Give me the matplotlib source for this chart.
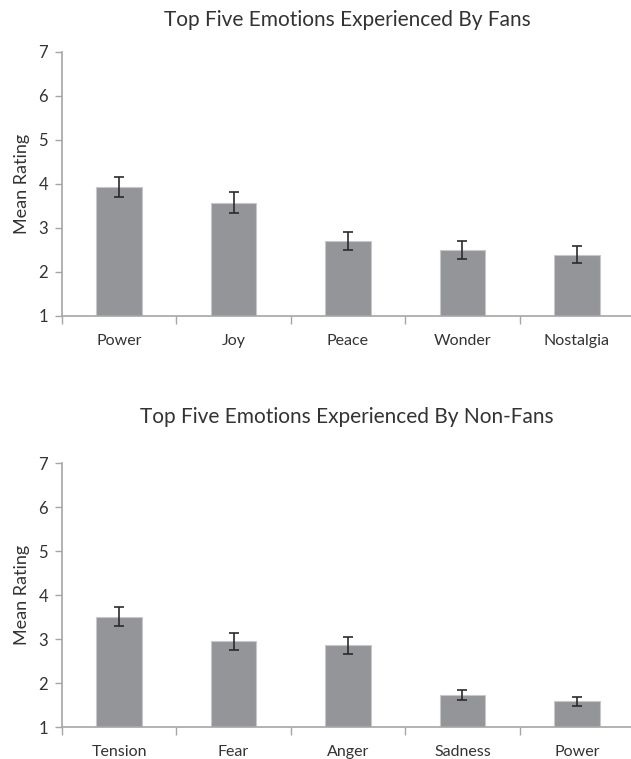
import matplotlib
matplotlib.use("Agg")
import matplotlib.pyplot as plt
import numpy as np

plt.rcParams["font.family"] = ["Lato", "DejaVu Sans"]

fan_labels = ["Power", "Joy", "Peace", "Wonder", "Nostalgia"]
fan_means = [3.93, 3.57, 2.71, 2.50, 2.39]
fan_err = [0.22, 0.24, 0.21, 0.20, 0.19]

nonfan_labels = ["Tension", "Fear", "Anger", "Sadness", "Power"]
nonfan_means = [3.51, 2.95, 2.86, 1.73, 1.58]
nonfan_err = [0.21, 0.19, 0.19, 0.11, 0.10]

titles = ["Top Five Emotions Experienced By Fans",
          "Top Five Emotions Experienced By Non-Fans"]

bar_col = "#939598"
axis_col = "#a6a6a6"
text_col = "#333333"

W, H = 631, 759
fig = plt.figure(figsize=(W / 100, H / 100), dpi=100)

# axes boxes in pixels: left, top, right, bottom
boxes = [(62, 52, 634, 316), (62, 463, 634, 727)]
title_y = [20, 417]

data = [(fan_labels, fan_means, fan_err), (nonfan_labels, nonfan_means, nonfan_err)]

for (labels, means, err), (l, t, r, b), ttl, ty in zip(data, boxes, titles, title_y):
    ax = fig.add_axes([l / W, 1 - b / H, (r - l) / W, (b - t) / H])
    x = np.arange(len(labels))
    ax.bar(x, np.array(means) - 1, bottom=1, width=0.4, color=bar_col,
           edgecolor="#c8c8ca", linewidth=0.8, zorder=2)
    ax.errorbar(x, means, yerr=err, fmt="none", ecolor="#2b2b2b",
                elinewidth=1.2, capsize=3.5, capthick=1.2, zorder=3)
    ax.set_xlim(-0.5, 4.5)
    ax.set_ylim(1, 7)
    ax.set_yticks(range(1, 8))
    ax.set_xticks(x)
    ax.set_xticklabels(labels)
    ax.set_xticks(np.arange(-0.5, 5, 1), minor=True)
    ax.tick_params(axis="x", which="major", length=0, pad=13, labelsize=11.5, colors=text_col)
    ax.tick_params(axis="x", which="minor", length=6, width=1, color=axis_col, direction="out")
    ax.tick_params(axis="y", length=5, width=1, color=axis_col, direction="out",
                   pad=5, labelsize=12, labelcolor=text_col)
    for s in ["top", "right"]:
        ax.spines[s].set_visible(False)
    for s in ["left", "bottom"]:
        ax.spines[s].set_color(axis_col)
        ax.spines[s].set_linewidth(1.2)
    ax.set_ylabel("Mean Rating", fontsize=13, color=text_col, labelpad=6)
    fig.text(347 / W, 1 - ty / H, ttl, ha="center", va="center",
             fontsize=15, color=text_col)

fig.savefig("out.png", dpi=100)
